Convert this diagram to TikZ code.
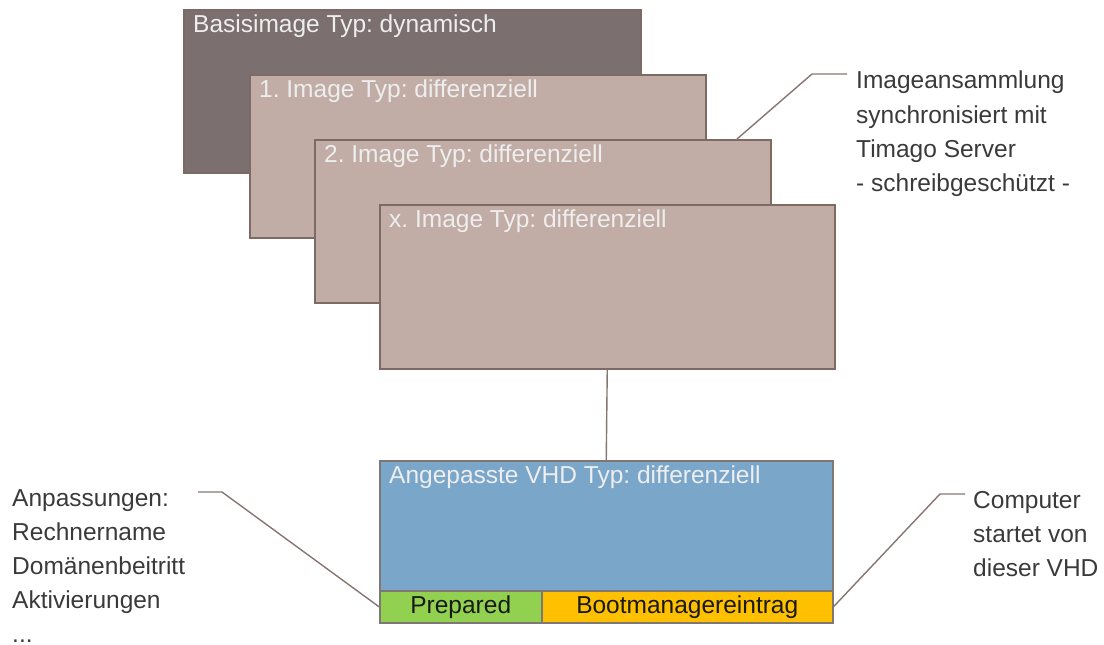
\documentclass[tikz,border=0pt]{standalone}
\usepackage{fontspec}
\setmainfont{Liberation Sans}
\definecolor{basefill}{HTML}{7B706F}
\definecolor{imgfill}{HTML}{C1ADA6}
\definecolor{boxline}{HTML}{7E6A64}
\definecolor{vhdfill}{HTML}{7AA6CA}
\definecolor{vhdline}{HTML}{7F7774}
\definecolor{prepfill}{HTML}{92D050}
\definecolor{bootfill}{HTML}{FFC000}
\definecolor{boxtext}{HTML}{EEEEEE}
\definecolor{labeltext}{HTML}{3A3A3A}
\definecolor{calloutline}{HTML}{857672}
\frenchspacing
\tikzset{
  imgbox/.style={draw=boxline, line width=1.5pt, fill=imgfill, inner sep=0pt, anchor=north west, minimum width=456pt, minimum height=163pt},
  boxlabel/.style={anchor=base west, inner sep=0pt, text=boxtext, font=\fontsize{24.5}{34}\selectfont},
  striplabel/.style={inner sep=0pt, text=black!90, font=\fontsize{24.5}{34}\selectfont},
  sidelabel/.style={inner sep=0pt, text=labeltext, align=left, font=\fontsize{24.5}{34.2}\selectfont},
  callout/.style={draw=calloutline, line width=1.4pt},
}
\begin{document}
\begin{tikzpicture}[x=1pt,y=-1pt]
\useasboundingbox (0,0) rectangle (1104,645);
% image stack
\node[imgbox, fill=basefill, minimum width=457pt] (base) at (183,9) {};
\node[boxlabel] (basetxt) at (193,32) {Basisimage Typ: dynamisch};
\node[imgbox] (img1) at (249,74) {};
\node[boxlabel] (img1txt) at (259,97) {1. Image Typ: differenziell};
\node[imgbox] (img2) at (314,139) {};
\node[boxlabel] (img2txt) at (324,162) {2. Image Typ: differenziell};
\node[imgbox, minimum width=455pt, minimum height=164pt] (imgx) at (379,204) {};
\node[boxlabel] (imgxtxt) at (389,227) {x. Image Typ: differenziell};
% VHD
\node[imgbox, draw=vhdline, fill=vhdfill, minimum width=453pt, minimum height=162pt] (vhd) at (379,460) {};
\node[boxlabel] (vhdtxt) at (389,483) {Angepasste VHD Typ: differenziell};
\node[draw=vhdline, line width=1.5pt, fill=prepfill, inner sep=0pt, anchor=north west, minimum width=162pt, minimum height=32pt] (prep) at (379,590) {};
\node[draw=vhdline, line width=1.5pt, fill=bootfill, inner sep=0pt, anchor=north west, minimum width=291pt, minimum height=32pt] (boot) at (541,590) {};
\node[striplabel] (preptxt) at (prep.center) {Prepared};
\node[striplabel] (boottxt) at (boot.center) {Bootmanagereintrag};
% connector stack -> VHD
\draw[callout] (imgx.south) -- (vhd.north);
% side labels
\node[sidelabel, anchor=north west] (toplabel) at (856,71) {Imageansammlung\\synchronisiert mit\\Timago Server\\- schreibgeschützt -};
\node[sidelabel, anchor=north west] (leftlabel) at (12,489) {Anpassungen:\\Rechnername\\Domänenbeitritt\\Aktivierungen\\...};
\node[sidelabel, anchor=north west] (rightlabel) at (973,491) {Computer\\startet von\\dieser VHD};
% callouts
\coordinate (tA) at (737,139);
\coordinate (tB) at (812,74);
\coordinate (tC) at (847,74);
\draw[callout] (tA) -- (tB) -- (tC);
\coordinate (lA) at (198,492);
\coordinate (lB) at (222,492);
\coordinate (lC) at (prep.west);
\draw[callout] (lA) -- (lB) -- (lC);
\coordinate (rA) at (boot.east);
\coordinate (rB) at (940,494);
\coordinate (rC) at (965,494);
\draw[callout] (rA) -- (rB) -- (rC);
\end{tikzpicture}
\end{document}
